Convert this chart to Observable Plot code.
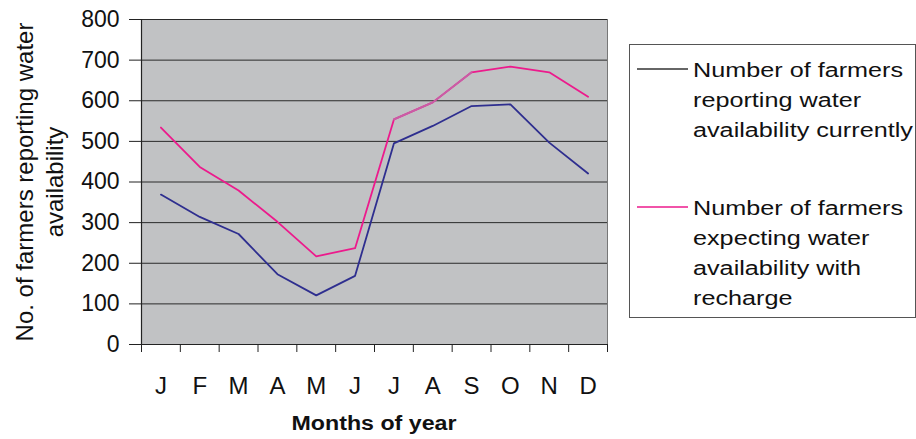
<!DOCTYPE html>
<html>
<head>
<meta charset="utf-8">
<script src="https://cdn.jsdelivr.net/npm/d3@7"></script>
<script src="https://cdn.jsdelivr.net/npm/@observablehq/plot@0.6"></script>
<style>
  html, body { margin: 0; padding: 0; background: #fff; }
  #wrap { position: relative; width: 916px; height: 439px; overflow: hidden; font-family: "Liberation Sans", Arial, sans-serif; }
  #legend { position: absolute; left: 629px; top: 44px; width: 287px; height: 274px; border: 1px solid #555; border-right-color: #555; box-sizing: border-box; background: #fff; }
  .lline { position: absolute; }
  .ltxt { position: absolute; left: 693px; font-size: 20px; line-height: 30px; color: #111; white-space: nowrap; transform: scaleX(1.26); transform-origin: left center; }
  #xtitle { position: absolute; left: 374px; top: 411px; font-size: 20px; line-height: 24px; font-weight: bold; color: #111; white-space: nowrap; transform: translateX(-50%) scaleX(1.16); }
</style>
</head>
<body>
<div id="wrap"></div>
<script>
const months = ["J", "F", "M", "A", "M", "J", "J", "A", "S", "O", "N", "D"];
const seriesNames = [
  "Number of farmers reporting water availability currently",
  "Number of farmers expecting water availability with recharge"
];
const legendLines = [
  ["Number of farmers", "reporting water", "availability currently"],
  ["Number of farmers", "expecting water", "availability with", "recharge"]
];
const currentValues = [369, 314, 272, 173, 121, 169, 495, 538, 587, 591, 497, 421];
const rechargeValues = [534, 437, 379, 302, 217, 237, 554, 596, 670, 684, 670, 610];
const yTicks = [0, 100, 200, 300, 400, 500, 600, 700, 800];
const yTitle = "No. of farmers reporting water\navailability";
const xTitle = "Months of year";

const blue = "#2e2e8f";
const pink = "#ec1a8c";

const cur = months.map((m, i) => ({i, m, v: currentValues[i]}));
const rec = months.map((m, i) => ({i, m, v: rechargeValues[i]}));

const chart = Plot.plot({
  width: 916,
  height: 439,
  marginLeft: 141,
  marginRight: 309,
  marginTop: 19,
  marginBottom: 95,
  style: {fontFamily: "Liberation Sans, Arial, sans-serif", background: "transparent", color: "#111"},
  x: {type: "linear", domain: [0, 12]},
  y: {domain: [0, 800]},
  marks: [
    Plot.frame({fill: "#c1c2c4", stroke: "#777"}),
    Plot.ruleY(yTicks, {stroke: "#2a2a2a", strokeWidth: 1}),
    Plot.ruleX([0], {stroke: "#222", strokeWidth: 1.2}),
    Plot.ruleY([0], {stroke: "#222", strokeWidth: 1.2}),
    Plot.axisY({ticks: yTicks, tickSize: 12, tickPadding: 10, fontSize: 23, label: null, stroke: "#222"}),
    Plot.axisX({ticks: d3.range(0, 13), tickSize: 8, tickFormat: () => "", label: null, stroke: "#222"}),
    Plot.axisX({ticks: d3.range(12).map(i => i + 0.5), tickSize: 0, tickPadding: 32, fontSize: 24,
      tickFormat: d => months[Math.floor(d)], label: null}),
    Plot.line(cur, {x: d => d.i + 0.5, y: "v", stroke: blue, strokeWidth: 1.8}),
    Plot.line(rec, {x: d => d.i + 0.5, y: "v", stroke: pink, strokeWidth: 1.8}),
    Plot.line(rec.filter(d => d.i >= 6 && d.i <= 8), {x: d => d.i + 0.5, y: "v", stroke: "#c95ea6", strokeWidth: 1.8}),
    Plot.text([yTitle], {frameAnchor: "left", textAnchor: "middle", dx: -103, rotate: -90, fontSize: 24, lineHeight: 1.25, fill: "#111"})
  ]
});

const wrap = document.getElementById("wrap");
wrap.appendChild(chart);

const xt = document.createElement("div");
xt.id = "xtitle";
xt.textContent = xTitle;
wrap.appendChild(xt);

const legend = document.createElement("div");
legend.id = "legend";
wrap.appendChild(legend);

const legendItems = [
  {name: seriesNames[0], lines: legendLines[0], color: "#333", lineY: 69},
  {name: seriesNames[1], lines: legendLines[1], color: pink, lineY: 207}
];
for (const it of legendItems) {
  const s = document.createElementNS("http://www.w3.org/2000/svg", "svg");
  s.setAttribute("class", "lline");
  s.setAttribute("width", 52);
  s.setAttribute("height", 4);
  s.style.left = "637px";
  s.style.top = (it.lineY - 2) + "px";
  s.innerHTML = `<line x1="0" x2="51" y1="2" y2="2" stroke="${it.color}" stroke-width="1.6"/>`;
  wrap.appendChild(s);
  const t = document.createElement("div");
  t.className = "ltxt";
  t.style.top = (it.lineY - 14) + "px";
  t.innerHTML = it.lines.join("<br>");
  wrap.appendChild(t);
}
</script>
</body>
</html>
